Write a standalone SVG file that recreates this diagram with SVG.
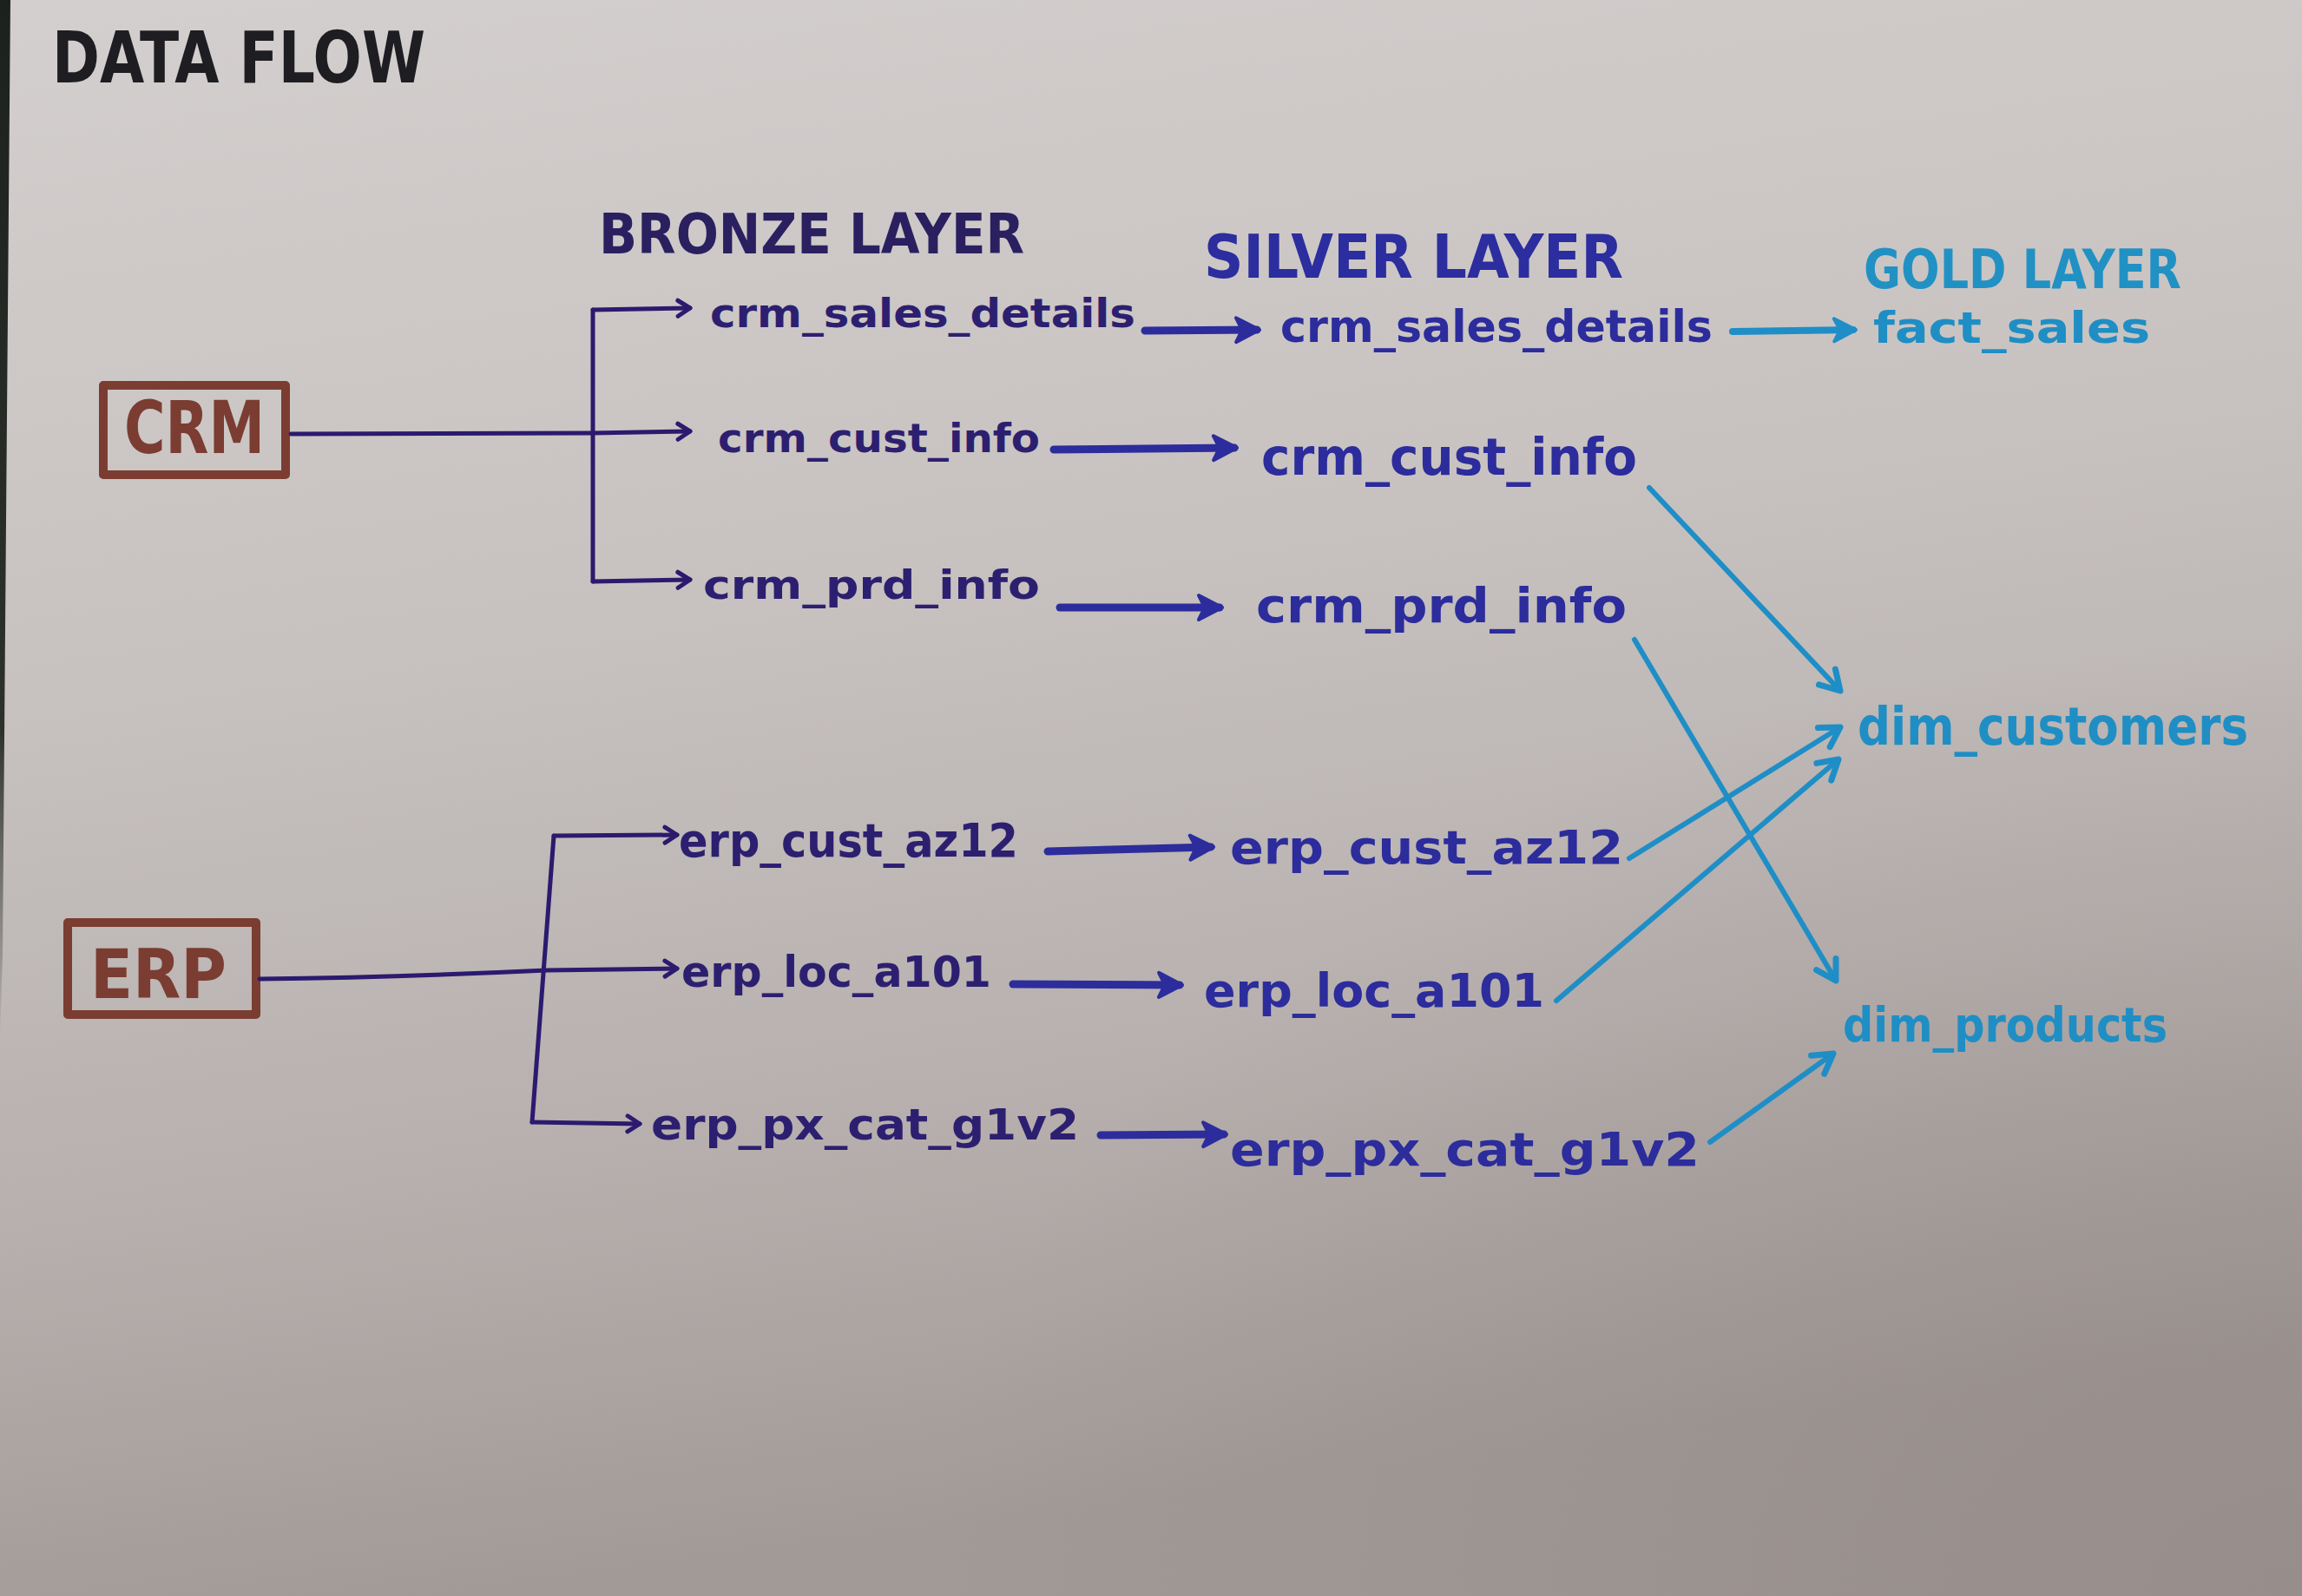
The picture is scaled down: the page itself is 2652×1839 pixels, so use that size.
<svg xmlns="http://www.w3.org/2000/svg" width="2652" height="1839" viewBox="0 0 2652 1839">
<defs>
  <linearGradient id="paper" x1="0" y1="0" x2="0.2" y2="1">
    <stop offset="0" stop-color="#d3cfce"/>
    <stop offset="0.4" stop-color="#c8c3c1"/>
    <stop offset="0.75" stop-color="#b6afad"/>
    <stop offset="1" stop-color="#a29a97"/>
  </linearGradient>
  <radialGradient id="shade" cx="1" cy="1" r="0.6">
    <stop offset="0" stop-color="#867b78" stop-opacity="0.4"/>
    <stop offset="1" stop-color="#867b78" stop-opacity="0"/>
  </radialGradient>
  <linearGradient id="edge" x1="0" y1="0" x2="0" y2="1">
    <stop offset="0" stop-color="#1c211d" stop-opacity="1"/>
    <stop offset="0.7" stop-color="#1c211d" stop-opacity="0.9"/>
    <stop offset="1" stop-color="#1c211d" stop-opacity="0"/>
  </linearGradient>
  <marker id="hDark" markerUnits="userSpaceOnUse" viewBox="-24 -16 30 32" markerWidth="30" markerHeight="32" refX="0" refY="0" orient="auto" overflow="visible">
    <path d="M-14,-9 L0,0 L-14,9" fill="none" stroke="#2b1a6e" stroke-width="5" stroke-linecap="round" stroke-linejoin="round"/>
  </marker>
  <marker id="hBlue" markerUnits="userSpaceOnUse" viewBox="-30 -18 36 36" markerWidth="36" markerHeight="36" refX="0" refY="0" orient="auto" overflow="visible">
    <path d="M-24,-14 L3,0 L-24,14 L-17,0 Z" fill="#2d2c9c" stroke="#2d2c9c" stroke-width="4" stroke-linejoin="round"/>
  </marker>
  <marker id="hCyan" markerUnits="userSpaceOnUse" viewBox="-30 -18 36 36" markerWidth="36" markerHeight="36" refX="0" refY="0" orient="auto" overflow="visible">
    <path d="M-22,-13 L3,0 L-22,13 L-15,0 Z" fill="#1f8ec6" stroke="#1f8ec6" stroke-width="4" stroke-linejoin="round"/>
  </marker>
  <marker id="hCyanV" markerUnits="userSpaceOnUse" viewBox="-30 -20 36 40" markerWidth="36" markerHeight="40" refX="0" refY="0" orient="auto" overflow="visible">
    <path d="M-22,-13 L0,0 L-22,13" fill="none" stroke="#1f8ec6" stroke-width="7" stroke-linecap="round" stroke-linejoin="round"/>
  </marker>
</defs>
<style>
  .hand { font-family: "DejaVu Sans", "Liberation Sans", sans-serif; font-weight: bold; }
  .title { fill: #1d1d22; }
  .bronzeH { fill: #2a2060; }
  .silverH { fill: #2c2d9e; }
  .goldH { fill: #2191c4; }
  .bronze { fill: #2d1f70; }
  .silver { fill: #2c2c9c; }
  .gold { fill: #1f8ec4; }
  .src { fill: #7b3d31; }
  .box { fill: none; stroke: #7b3d31; stroke-width: 10; stroke-linejoin: round; }
  .dark { fill: none; stroke: #2b1a6e; stroke-width: 5; stroke-linecap: round; stroke-linejoin: round; }
  .blue { fill: none; stroke: #2d2c9c; stroke-width: 9; stroke-linecap: round; }
  .cyan { fill: none; stroke: #1f8ec6; stroke-width: 6; stroke-linecap: round; }
  .cyanThick { fill: none; stroke: #1f8ec6; stroke-width: 8; stroke-linecap: round; }
</style>

<rect x="0" y="0" width="2652" height="1839" fill="url(#paper)"/>
<rect x="0" y="0" width="2652" height="1839" fill="url(#shade)"/>
<polygon points="0,0 12,0 7,600 3,1100 0,1200" fill="url(#edge)"/>

<g id="title">
  <text class="hand title" x="60" y="95" font-size="82" textLength="430" lengthAdjust="spacingAndGlyphs">DATA FLOW</text>
</g>

<g id="layer-headers">
  <text class="hand bronzeH" x="690" y="292" font-size="64" textLength="490" lengthAdjust="spacingAndGlyphs">BRONZE LAYER</text>
  <text class="hand silverH" x="1387" y="320" font-size="70" textLength="483" lengthAdjust="spacingAndGlyphs">SILVER LAYER</text>
  <text class="hand goldH" x="2147" y="332" font-size="62" textLength="366" lengthAdjust="spacingAndGlyphs">GOLD LAYER</text>
</g>

<g id="crm">
  <rect class="box" x="119" y="444" width="210" height="103"/>
  <text class="hand src" x="143" y="522" font-size="84" textLength="162" lengthAdjust="spacingAndGlyphs">CRM</text>
</g>
<g id="erp">
  <rect class="box" x="78" y="1063" width="217" height="106"/>
  <text class="hand src" x="104" y="1150" font-size="78" textLength="157" lengthAdjust="spacingAndGlyphs">ERP</text>
</g>

<g id="bronze-crm_sales_details"><text class="hand bronze" x="818" y="377" font-size="46" textLength="490" lengthAdjust="spacingAndGlyphs">crm_sales_details</text></g>
<g id="bronze-crm_cust_info"><text class="hand bronze" x="827" y="521" font-size="46" textLength="371" lengthAdjust="spacingAndGlyphs">crm_cust_info</text></g>
<g id="bronze-crm_prd_info"><text class="hand bronze" x="810" y="690" font-size="46" textLength="388" lengthAdjust="spacingAndGlyphs">crm_prd_info</text></g>
<g id="bronze-erp_cust_az12"><text class="hand bronze" x="782" y="987" font-size="54" textLength="391" lengthAdjust="spacingAndGlyphs">erp_cust_az12</text></g>
<g id="bronze-erp_loc_a101"><text class="hand bronze" x="785" y="1137" font-size="50" textLength="357" lengthAdjust="spacingAndGlyphs">erp_loc_a101</text></g>
<g id="bronze-erp_px_cat_g1v2"><text class="hand bronze" x="750" y="1313" font-size="50" textLength="493" lengthAdjust="spacingAndGlyphs">erp_px_cat_g1v2</text></g>

<g id="silver-crm_sales_details"><text class="hand silver" x="1475" y="394" font-size="52" textLength="498" lengthAdjust="spacingAndGlyphs">crm_sales_details</text></g>
<g id="silver-crm_cust_info"><text class="hand silver" x="1453" y="547" font-size="58" textLength="433" lengthAdjust="spacingAndGlyphs">crm_cust_info</text></g>
<g id="silver-crm_prd_info"><text class="hand silver" x="1447" y="717" font-size="56" textLength="427" lengthAdjust="spacingAndGlyphs">crm_prd_info</text></g>
<g id="silver-erp_cust_az12"><text class="hand silver" x="1417" y="995" font-size="54" textLength="453" lengthAdjust="spacingAndGlyphs">erp_cust_az12</text></g>
<g id="silver-erp_loc_a101"><text class="hand silver" x="1387" y="1160" font-size="54" textLength="392" lengthAdjust="spacingAndGlyphs">erp_loc_a101</text></g>
<g id="silver-erp_px_cat_g1v2"><text class="hand silver" x="1417" y="1343" font-size="54" textLength="541" lengthAdjust="spacingAndGlyphs">erp_px_cat_g1v2</text></g>

<g id="gold-fact_sales"><text class="hand gold" x="2158" y="395" font-size="50" textLength="319" lengthAdjust="spacingAndGlyphs">fact_sales</text></g>
<g id="gold-dim_customers"><text class="hand gold" x="2140" y="858" font-size="60" textLength="450" lengthAdjust="spacingAndGlyphs">dim_customers</text></g>
<g id="gold-dim_products"><text class="hand gold" x="2123" y="1200" font-size="56" textLength="374" lengthAdjust="spacingAndGlyphs">dim_products</text></g>

<g id="connectors">
  <path class="dark" d="M335,500 L683,499 L795,497" marker-end="url(#hDark)"/>
  <path class="dark" d="M683,357 L683,670"/>
  <path class="dark" d="M683,357 L795,355" marker-end="url(#hDark)"/>
  <path class="dark" d="M683,670 L795,668" marker-end="url(#hDark)"/>
  <path class="dark" d="M299,1128 Q460,1126 630,1118 L780,1116" marker-end="url(#hDark)"/>
  <path class="dark" d="M638,963 L613,1293"/>
  <path class="dark" d="M638,963 L780,962" marker-end="url(#hDark)"/>
  <path class="dark" d="M613,1293 L737,1295" marker-end="url(#hDark)"/>
  <path class="blue" d="M1319,381 L1448,380" marker-end="url(#hBlue)"/>
  <path class="blue" d="M1214,518 L1422,516" marker-end="url(#hBlue)"/>
  <path class="blue" d="M1221,700 L1405,700" marker-end="url(#hBlue)"/>
  <path class="blue" d="M1207,981 L1395,976" marker-end="url(#hBlue)"/>
  <path class="blue" d="M1167,1134 L1359,1135" marker-end="url(#hBlue)"/>
  <path class="blue" d="M1268,1308 L1410,1307" marker-end="url(#hBlue)"/>
  <path class="cyanThick" d="M1996,382 L2135,380" marker-end="url(#hCyan)"/>
  <path class="cyan" d="M1900,562 L2120,796" marker-end="url(#hCyanV)"/>
  <path class="cyan" d="M1883,737 L2115,1130" marker-end="url(#hCyanV)"/>
  <path class="cyan" d="M1877,989 L2120,838" marker-end="url(#hCyanV)"/>
  <path class="cyan" d="M1793,1153 L2118,875" marker-end="url(#hCyanV)"/>
  <path class="cyan" d="M1970,1316 L2112,1214" marker-end="url(#hCyanV)"/>
</g>
</svg>
